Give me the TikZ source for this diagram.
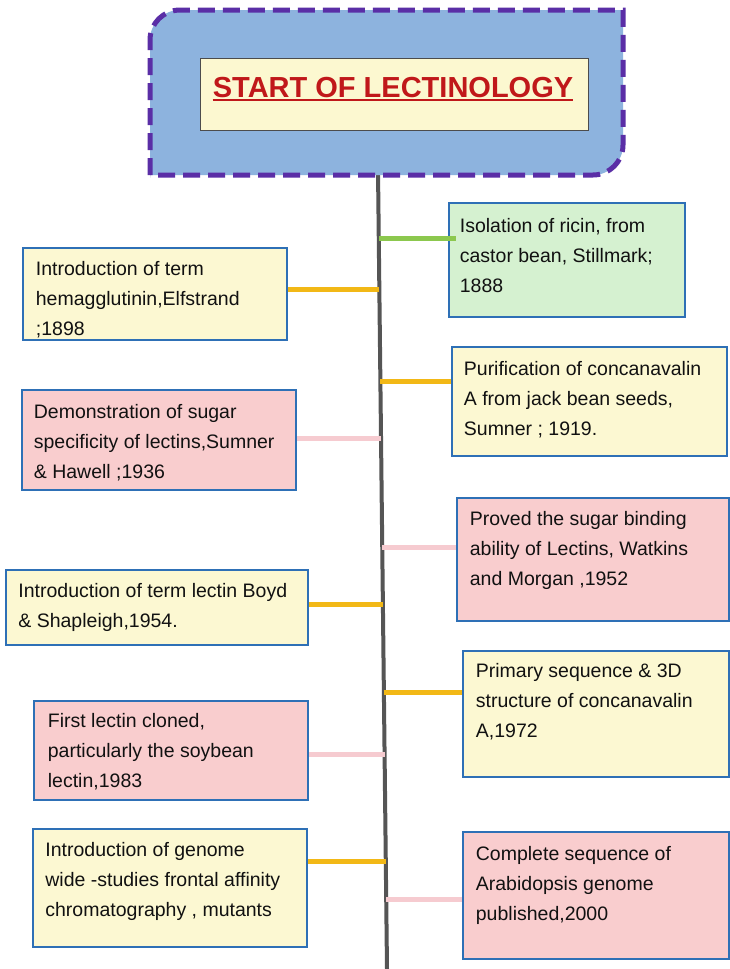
\documentclass[tikz,border=0pt]{standalone}
\usepackage{fontspec}
\setmainfont{Liberation Sans}
\definecolor{boxblue}{HTML}{2E70B6}
\definecolor{yfill}{HTML}{FCF8D2}
\definecolor{pfill}{HTML}{F9CDCE}
\definecolor{gfill}{HTML}{D5F1D0}
\definecolor{oline}{HTML}{F2B816}
\definecolor{pline}{HTML}{F6CBD0}
\definecolor{gline}{HTML}{8CC84E}
\definecolor{titlefill}{HTML}{8DB3DE}
\definecolor{titlepurple}{HTML}{5A2EA6}
\definecolor{innerfill}{HTML}{FCF8D0}
\definecolor{titlered}{HTML}{C0181A}
\definecolor{spinecol}{HTML}{555555}
\definecolor{txtcol}{HTML}{111111}
\begin{document}
\begin{tikzpicture}[x=1pt,y=-1pt,
  box/.style={draw=boxblue, line width=2.6pt, rectangle, inner sep=0pt},
  ybox/.style={box, fill=yfill},
  pbox/.style={box, fill=pfill},
  gbox/.style={box, fill=gfill},
  txt/.style={anchor=north west, inner sep=0pt, align=left, text=txtcol,
    font=\fontsize{19.5}{30}\selectfont},
  conn/.style={line width=5pt},
  oconn/.style={conn, draw=oline},
  pconn/.style={conn, draw=pline},
  gconn/.style={conn, draw=gline}]
\useasboundingbox (0,0) rectangle (730,969);
\fill[white] (0,0) rectangle (730,969);

% spine
\coordinate (titlebottom) at (378,170);
\coordinate (spineend) at (387,969);
\draw[spinecol, line width=4pt] (titlebottom) -- (spineend);

% title block
\filldraw[fill=titlefill, draw=titlepurple, line width=5pt, dash pattern=on 17pt off 8pt]
  (150,175) -- (150,40) arc[start angle=180, end angle=270, radius=30]
  -- (623,10) -- (623,145) arc[start angle=0, end angle=90, radius=30] -- cycle;
\node[draw=black!70, fill=innerfill, line width=1pt, minimum width=388pt, minimum height=72pt, inner sep=0pt]
  (inner) at (394,94) {};
\node[anchor=base, inner sep=0pt, text=titlered, font=\fontsize{29}{30}\selectfont\bfseries]
  (tt) at (393,97) {START OF LECTINOLOGY};
\draw[titlered, line width=2pt] ([yshift=-3pt]tt.base west) -- ([yshift=-3pt]tt.base east);

% spine coordinates
\coordinate (s1) at (379,238);
\coordinate (s2) at (379.3,289);
\coordinate (s3) at (380.3,381);
\coordinate (s4) at (381,438);
\coordinate (s5) at (382.2,547);
\coordinate (s6) at (382.9,604);
\coordinate (s7) at (383.9,692);
\coordinate (s8) at (384.6,754);
\coordinate (s9) at (385.8,861);
\coordinate (s10) at (386.2,899);

% boxes
\node[gbox, minimum width=236pt, minimum height=114pt] (r1) at (567,260) {};
\node[ybox, minimum width=264pt, minimum height=92pt] (l1) at (155,294) {};
\node[ybox, minimum width=275pt, minimum height=109pt] (r2) at (589.5,401.5) {};
\node[pbox, minimum width=274pt, minimum height=100pt] (l2) at (159,440) {};
\node[pbox, minimum width=272pt, minimum height=123pt] (r3) at (593,559.5) {};
\node[ybox, minimum width=302pt, minimum height=75pt] (l3) at (157,607.5) {};
\node[ybox, minimum width=266pt, minimum height=126pt] (r4) at (596,714) {};
\node[pbox, minimum width=274pt, minimum height=99pt] (l4) at (171,750.5) {};
\node[ybox, minimum width=274pt, minimum height=118pt] (l5) at (170,888) {};
\node[pbox, minimum width=266pt, minimum height=127pt] (r5) at (596,895.5) {};

% connectors
\draw[gconn] (s1) -- ([xshift=8pt]r1.west |- s1);
\draw[oconn] (s2) -- (l1.east |- s2);
\draw[oconn] (s3) -- (r2.west |- s3);
\draw[pconn] (s4) -- (l2.east |- s4);
\draw[pconn] (s5) -- (r3.west |- s5);
\draw[oconn] (s6) -- (l3.east |- s6);
\draw[oconn] (s7) -- (r4.west |- s7);
\draw[pconn] (s8) -- (l4.east |- s8);
\draw[oconn] (s9) -- (l5.east |- s9);
\draw[pconn] (s10) -- (r5.west |- s10);

% texts
\node[txt] (t1) at ([xshift=12pt, yshift=-16pt]r1.north west) {Isolation of ricin, from\\castor bean, Stillmark;\\1888};
\node[txt] (t2) at ([xshift=14pt, yshift=-14pt]l1.north west) {Introduction of term\\hemagglutinin,Elfstrand\\;1898};
\node[txt] (t3) at ([xshift=13pt, yshift=-15pt]r2.north west) {Purification of concanavalin\\A from jack bean seeds,\\Sumner ; 1919.};
\node[txt] (t4) at ([xshift=13pt, yshift=-15pt]l2.north west) {Demonstration of sugar\\specificity of lectins,Sumner\\\& Hawell ;1936};
\node[txt] (t5) at ([xshift=14pt, yshift=-14pt]r3.north west) {Proved the sugar binding\\ability of Lectins, Watkins\\and Morgan ,1952};
\node[txt] (t6) at ([xshift=13.5pt, yshift=-14pt]l3.north west) {Introduction of term lectin Boyd\\\& Shapleigh,1954.};
\node[txt] (t7) at ([xshift=14pt, yshift=-13pt]r4.north west) {Primary sequence \& 3D\\structure of concanavalin\\A,1972};
\node[txt] (t8) at ([xshift=15pt, yshift=-13pt]l4.north west) {First lectin cloned,\\particularly the soybean\\lectin,1983};
\node[txt] (t9) at ([xshift=13.5pt, yshift=-14pt]l5.north west) {Introduction of genome\\wide -studies frontal affinity\\chromatography , mutants};
\node[txt] (t10) at ([xshift=14pt, yshift=-15pt]r5.north west) {Complete sequence of\\Arabidopsis genome\\published,2000};
\end{tikzpicture}
\end{document}
